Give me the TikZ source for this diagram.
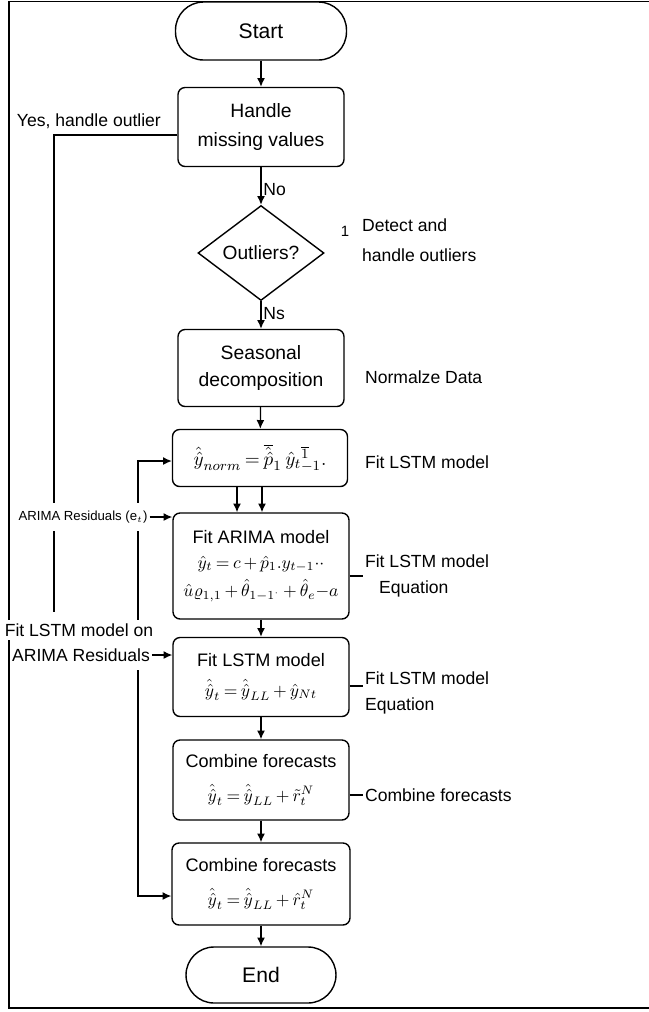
\documentclass[tikz,border=0pt]{standalone}
\usepackage[no-math]{fontspec}
\setmainfont{Liberation Sans}
\usetikzlibrary{arrows.meta}
\usetikzlibrary{shapes.geometric}
\thickmuskip=3.5mu
\medmuskip=3mu
\tikzset{cell/.style={rectangle, rounded corners=4pt, draw, line width=0.8pt, align=center, inner sep=0pt, font=\fontsize{10.3}{15}\selectfont}}
\tikzset{term/.style={rectangle, rounded corners=0.56cm, draw, line width=0.8pt, inner sep=0pt, font=\fontsize{12}{14}\selectfont}}
\tikzset{dec/.style={diamond, draw, line width=0.8pt, inner sep=0pt, shape aspect=1.33, font=\fontsize{10.9}{13}\selectfont}}
\tikzset{side/.style={align=left, inner sep=1pt, font=\fontsize{10}{14.5}\selectfont}}
\tikzset{tiny/.style={inner xsep=1pt, inner ysep=4.5pt, font=\fontsize{7.5}{9}\selectfont}}
\tikzset{arr/.style={-{Latex[length=5pt,width=4.5pt]}, line width=0.7pt}}
\tikzset{wire/.style={line width=0.7pt}}

\begin{document}
\begin{tikzpicture}[x=0.02cm, y=-0.02cm]

    \useasboundingbox (0,0) rectangle (649,1012);
    \draw[line width=1.1pt] (9,1.5) rectangle (700,1008);

    % main column
    \node[term, minimum width=3.42cm, minimum height=1.16cm] (start) at (261,31) {Start};
    \node[cell, minimum width=3.32cm, minimum height=1.58cm, font=\fontsize{11}{16}\selectfont] (hmv) at (261,127) {Handle\\missing values};
    \node[dec, minimum width=2.52cm, minimum height=1.9cm] (outl) at (261,253) {Outliers?};
    \node[cell, minimum width=3.32cm, minimum height=1.54cm, font=\fontsize{11}{15.5}\selectfont] (seas) at (261,368) {Seasonal\\decomposition};
    \node[cell, minimum width=3.5cm, minimum height=1.14cm, font=\fontsize{11}{15}\selectfont] (norm) at (260,458)
        {$\hat{\hat{y}}_{norm} = \overline{\hat{\hat{p}}}_1\;\hat{y}_t{}^{\overline{1}}_{-1}.$};
    \node[cell, minimum width=3.52cm, minimum height=2.12cm] (arima) at (261,566)
        {Fit ARIMA model\\[-1pt]
         $\hat{y}_t = c + \hat{p}_1.y_{t-1}{\cdot}{\cdot}$\\[1pt]
         $\hat{u}\varrho_{1,1} + \hat{\theta}_{1-1^{\cdot}} + \hat{\theta}_e{-}a$};
    \node[cell, minimum width=3.52cm, minimum height=1.58cm] (lstm) at (261,677)
        {Fit LSTM model\\[2pt]
         $\hat{\hat{y}}_t = \hat{\hat{y}}_{LL} + \hat{y}_{Nt}$};
    \node[cell, minimum width=3.52cm, minimum height=1.6cm] (comb) at (261,780)
        {Combine forecasts\\[4pt]
         $\hat{\hat{y}}_t = \hat{\hat{y}}_{LL} + \tilde{r}_t^N$};
    \node[cell, minimum width=3.56cm, minimum height=1.64cm] (final) at (261,884)
        {Combine forecasts\\[4pt]
         $\hat{\hat{y}}_t = \hat{\hat{y}}_{LL} + \hat{r}_t^N$};
    \node[term, minimum width=3cm, minimum height=1.12cm] (end) at (261,975) {End};

    \draw[arr] (start) -- (hmv);
    \draw[arr] (hmv) -- node[side, right, pos=0.6] {No} (outl);
    \draw[arr] (outl) -- node[side, right, pos=0.45] {Ns} (seas);
    \draw[arr] (seas) -- (norm);
    \draw[arr] ([xshift=-0.46cm]norm.south) -- ([xshift=-0.46cm]norm.south |- arima.north);
    \draw[arr] ([xshift=0.04cm]norm.south) -- ([xshift=0.04cm]norm.south |- arima.north);
    \draw[arr] (arima) -- (lstm);
    \draw[arr] (lstm) -- (comb);
    \draw[arr] (comb) -- (final);
    \draw[arr] (final) -- (end);

    % right notes
    \node[font=\fontsize{8.5}{9}\selectfont] (one) at (345,231) {1};
    \node[side, anchor=west, font=\fontsize{10}{17}\selectfont] (det) at (360,240) {Detect and\\handle outliers};
    \node[side, anchor=west] (nd) at (363,377) {Normalze Data};
    \node[side, anchor=west] (fl) at (363,462) {Fit LSTM model};
    \node[side, anchor=west] (eqa) at (363,576) {Fit LSTM model\\\hspace{0.8em}Equation};
    \node[side, anchor=west] (eqb) at (363,693) {Fit LSTM model\\Equation};
    \node[side, anchor=west] (cf) at (363,795) {Combine forecasts};
    \draw[wire] (arima.east |- eqa) -- (eqa.west);
    \draw[wire] ([yshift=0.14cm]lstm.east |- eqb) -- ([yshift=0.14cm]eqb.west);
    \draw[wire] (comb.east |- cf) -- (cf.west);

    % left feedback lines
    \coordinate (loopT) at (138,461);
    \coordinate (loopB) at (138,896);
    \coordinate (yesend) at (54,612);
    \draw[arr, {Latex[length=5pt,width=4.5pt]}-{Latex[length=5pt,width=4.5pt]}]
        (norm.west |- loopT) -- (loopT) -- (loopB) -- (final.west |- loopB);
    \draw[wire] ([yshift=-0.16cm]hmv.west) -| (yesend);

    \node[side, anchor=east] (yes) at (163,121) {Yes, handle outlier};
    \node[tiny, fill=white] (res) at (83,517) {ARIMA Residuals (e$_t$)};
    \node[side, fill=white, inner ysep=5pt] (fr2) at (81,655) {ARIMA Residuals};
    \node[side, fill=white, inner ysep=2pt] (fr1) at (79,630) {Fit LSTM model on};
    \draw[arr] (res) -- (arima.west |- res);
    \draw[arr] (fr2) -- (lstm.west |- fr2);

\end{tikzpicture}
\end{document}
